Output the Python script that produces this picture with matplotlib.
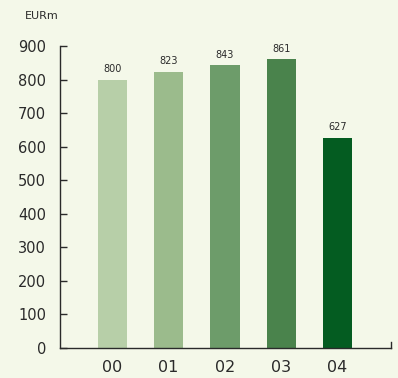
import matplotlib
matplotlib.use("Agg")
import matplotlib.pyplot as plt

years = ["00", "01", "02", "03", "04"]
values = [800, 823, 843, 861, 627]
bar_colors = ["#B7CFA8", "#9BBB8C", "#6D9C6A", "#4A834C", "#045C21"]
yticks = [0, 100, 200, 300, 400, 500, 600, 700, 800, 900]

bg = "#F4F8E9"
ink = "#2A2A2A"

fig = plt.figure(figsize=(3.98, 3.78), dpi=100, facecolor=bg)
ax = fig.add_axes([0.1508, 0.0794, 0.8316, 0.7989], facecolor=bg)

x = list(range(len(years)))
ax.bar(x, values, width=0.52, color=bar_colors, zorder=2)
for xi, v in zip(x, values):
    ax.text(xi, v + 16, str(v), ha="center", va="bottom", fontsize=7, color=ink)

ax.set_xlim(-0.93, 4.95)
ax.set_ylim(0, 900)
ax.set_yticks(yticks)
ax.set_xticks(x)
ax.set_xticklabels(years, fontsize=11.5, color=ink)
ax.tick_params(axis="y", direction="in", length=5, width=1, color=ink,
               labelsize=10.5, labelcolor=ink, pad=10)
ax.tick_params(axis="x", length=0, pad=9)

for side in ("top", "right"):
    ax.spines[side].set_visible(False)
for side in ("left", "bottom"):
    ax.spines[side].set_color(ink)
    ax.spines[side].set_linewidth(1)

# small end mark on the right of the x axis
ax.plot([4.95, 4.95], [0, 18], color=ink, lw=1, clip_on=False)

fig.text(0.063, 0.958, "EURm", fontsize=8, color=ink, va="center")

fig.savefig("out.png", dpi=100, facecolor=bg)
